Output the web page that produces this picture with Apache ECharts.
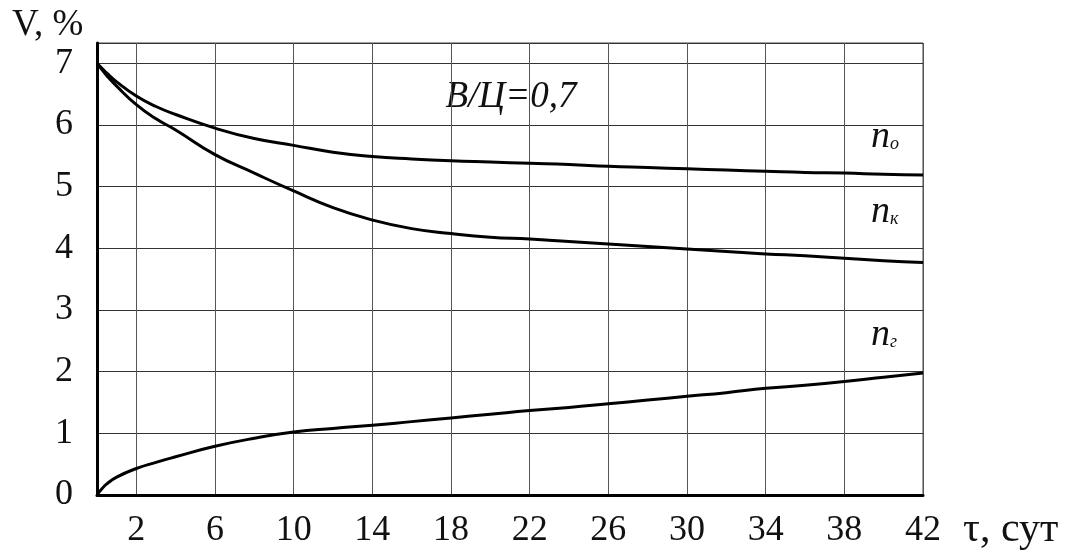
<!DOCTYPE html>
<html><head><meta charset="utf-8">
<script src="https://cdn.jsdelivr.net/npm/echarts@6/dist/echarts.min.js"></script>
<style>html,body{margin:0;padding:0;background:#fff}#c{width:1075px;height:552px}</style>
</head><body><div id="c"></div>
<script>
const tau = [0, 0.25, 0.5, 1, 2, 3, 4, 6, 8, 10, 12, 14, 16, 18, 20, 22, 24, 26, 28, 30, 32, 34, 36, 38, 40, 42];
const nO  = [7.0, 6.92, 6.84, 6.7, 6.47, 6.3, 6.17, 5.95, 5.78, 5.67, 5.56, 5.49, 5.45, 5.42, 5.40, 5.38, 5.36, 5.33, 5.31, 5.29, 5.27, 5.25, 5.23, 5.22, 5.20, 5.19];
const nK  = [7.0, 6.9, 6.8, 6.63, 6.33, 6.1, 5.92, 5.52, 5.22, 4.93, 4.66, 4.46, 4.32, 4.24, 4.18, 4.15, 4.11, 4.07, 4.03, 3.99, 3.95, 3.91, 3.88, 3.84, 3.80, 3.77];
const nG  = [0, 0.1, 0.18, 0.29, 0.43, 0.53, 0.62, 0.79, 0.92, 1.02, 1.08, 1.13, 1.19, 1.25, 1.31, 1.37, 1.42, 1.48, 1.54, 1.60, 1.66, 1.73, 1.78, 1.84, 1.91, 1.98];
const xTicks = [2, 6, 10, 14, 18, 22, 26, 30, 34, 38, 42];
const yLabel = 'V, %';
const xLabel = 'τ, сут';
const note = 'В/Ц=0,7';
const curveNames = ['n', 'n', 'n'];
const curveSubs = ['о', 'к', 'г'];

const FONT = '"Liberation Serif", "Times New Roman", serif';
const pair = (xs, ys) => xs.map((x, i) => [x, ys[i]]);
const lineSeries = (name, ys) => ({
  name, type: 'line', data: pair(tau, ys), smooth: 0.5,
  showSymbol: false, lineStyle: { color: '#000', width: 3 }, z: 3
});

const chart = echarts.init(document.getElementById('c'), null, { renderer: 'canvas' });
chart.setOption({
  backgroundColor: '#fff',
  animation: false,
  grid: { left: 97, right: 152, top: 43, bottom: 57, show: true, borderColor: '#444', borderWidth: 1 },
  xAxis: {
    type: 'value', min: 0, max: 42,
    axisLine: { show: true, onZero: false, lineStyle: { color: '#000', width: 3 } },
    axisTick: { show: false, customValues: xTicks },
    axisLabel: { customValues: xTicks, margin: 18, color: '#111', fontFamily: FONT, fontSize: 36 },
    splitLine: { show: true, lineStyle: { color: '#555', width: 1 } }
  },
  yAxis: {
    type: 'value', min: 0, max: 7.33, interval: 1,
    axisLine: { show: true, onZero: false, lineStyle: { color: '#000', width: 3 } },
    axisTick: { show: false },
    axisLabel: { showMaxLabel: false, margin: 24, color: '#111', fontFamily: FONT, fontSize: 36,
      formatter: v => (Number.isInteger(v) ? String(v) : '') },
    splitLine: { show: true, lineStyle: { color: '#333', width: 1 } }
  },
  series: [lineSeries('nO', nO), lineSeries('nK', nK), lineSeries('nG', nG)],
  graphic: [
    { type: 'text', x: 12, y: 25, style: { text: yLabel, font: '37px ' + FONT, fill: '#111', verticalAlign: 'middle' } },
    { type: 'text', x: 963, y: 530, style: { text: xLabel, font: '42px ' + FONT, fill: '#111', verticalAlign: 'middle' } },
    { type: 'text', x: 511, y: 97, style: { text: note, font: 'italic 37px ' + FONT, fill: '#111', align: 'center', verticalAlign: 'middle' } },
    { type: 'text', x: 871, y: 137, style: { text: curveNames[0], font: 'italic 38px ' + FONT, fill: '#111', verticalAlign: 'middle' } },
    { type: 'text', x: 890, y: 144, style: { text: curveSubs[0], font: 'italic 18px ' + FONT, fill: '#111', verticalAlign: 'middle' } },
    { type: 'text', x: 871, y: 212, style: { text: curveNames[1], font: 'italic 38px ' + FONT, fill: '#111', verticalAlign: 'middle' } },
    { type: 'text', x: 890, y: 219, style: { text: curveSubs[1], font: 'italic 18px ' + FONT, fill: '#111', verticalAlign: 'middle' } },
    { type: 'text', x: 871, y: 335, style: { text: curveNames[2], font: 'italic 38px ' + FONT, fill: '#111', verticalAlign: 'middle' } },
    { type: 'text', x: 890, y: 342, style: { text: curveSubs[2], font: 'italic 18px ' + FONT, fill: '#111', verticalAlign: 'middle' } }
  ]
});
</script>
</body></html>
